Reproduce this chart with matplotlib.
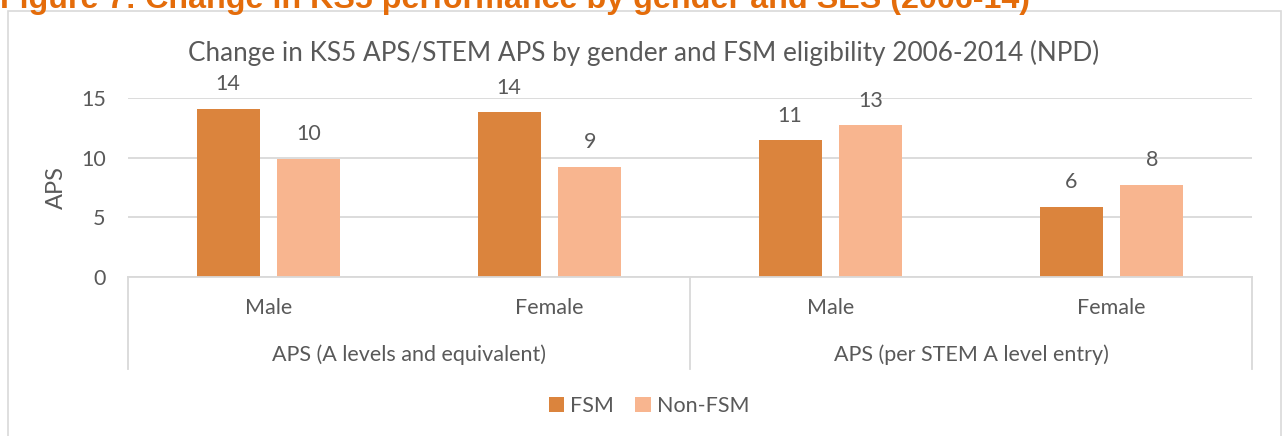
import matplotlib.pyplot as plt
import numpy as np
from matplotlib.patches import Rectangle
from matplotlib.lines import Line2D

# data
groups = ['APS (A levels and equivalent)', 'APS (per STEM A level entry)']
genders = ['Male', 'Female', 'Male', 'Female']
fsm = [14.1, 13.8, 11.45, 5.9]
non_fsm = [9.9, 9.2, 12.7, 7.75]
series_names = ['FSM', 'Non-FSM']

fsm_color = '#DB843D'
non_fsm_color = '#F8B58F'
grey_text = '#595959'
line_grey = '#D9D9D9'

plt.rcParams['font.family'] = ['Lato', 'DejaVu Sans']
fs = 15.5

W, H = 1285, 436
fig = plt.figure(figsize=(W / 100, H / 100), dpi=100)

# pixel helpers (top-left origin)
def fx(px):
    return px / W

def fy(py):
    return 1 - py / H

# outer chart border
fig.patches.append(Rectangle((fx(8), fy(445)), fx(1281) - fx(8), fy(11) - fy(445),
                             transform=fig.transFigure, fill=False,
                             edgecolor=line_grey, linewidth=1.2))

# header caption (cut off at the top like in the source)
fig.text(fx(0), fy(8), 'Figure 7: Change in KS5 performance by gender and SES (2006-14)',
         color='#E46C0A', fontsize=23.2, fontweight='bold',
         family=['Liberation Sans', 'DejaVu Sans'], ha='left', va='baseline')

left, right, y0, y15 = 128, 1252, 277, 98
ax = fig.add_axes([fx(left), fy(y0), fx(right) - fx(left), fy(y15) - fy(y0)])

x = np.arange(len(genders))
w = 0.224
off = 0.144
b1 = ax.bar(x - off, fsm, w, color=fsm_color, label=series_names[0], zorder=3)
b2 = ax.bar(x + off, non_fsm, w, color=non_fsm_color, label=series_names[1], zorder=3)

for bars, vals in [(b1, fsm), (b2, non_fsm)]:
    for rect, v in zip(bars, vals):
        ax.annotate(f'{v:.0f}', (rect.get_x() + rect.get_width() / 2, v),
                    xytext=(0, 13.5), textcoords='offset points',
                    ha='center', va='baseline', fontsize=fs, color=grey_text,
                    annotation_clip=False)

ax.set_xlim(-0.5, 3.5)
ax.set_ylim(0, 15)
ax.set_yticks([0, 5, 10, 15])
ax.tick_params(axis='y', length=0, pad=16, labelsize=fs, labelcolor=grey_text)
ax.set_xticks([])
for s in ax.spines.values():
    s.set_visible(False)
ax.grid(axis='y', color=line_grey, linewidth=1.3, zorder=0)
ax.set_ylabel('APS', fontsize=17, color=grey_text, labelpad=10)

# two-level category axis
tr = ax.get_xaxis_transform()
axh = y0 - y15
def ay(py):
    return (y0 - py) / axh

ax.add_line(Line2D([-0.5, 3.5], [0, 0], transform=tr, color=line_grey,
                   linewidth=1.3, clip_on=False, zorder=4))
for xv in [-0.5, 1.5, 3.5]:
    ax.add_line(Line2D([xv, xv], [0, ay(369)], transform=tr, color=line_grey,
                       linewidth=1.3, clip_on=False))
for i, g in enumerate(genders):
    ax.text(i, ay(308), g, transform=tr, ha='center', va='center',
            fontsize=fs, color=grey_text)
for j, g in enumerate(groups):
    ax.text(2 * j + 0.5, ay(355), g, transform=tr, ha='center', va='center',
            fontsize=fs, color=grey_text)

fig.text(fx(644), fy(53), 'Change in KS5 APS/STEM APS by gender and FSM eligibility 2006-2014 (NPD)',
         ha='center', va='center', fontsize=18.8, color=grey_text)

fig.legend(handles=[b1, b2], labels=series_names, loc='center',
           bbox_to_anchor=(fx(649), fy(406)), ncol=2, frameon=False,
           fontsize=fs, labelcolor=grey_text, handlelength=0.7,
           handleheight=0.7, handletextpad=0.3, columnspacing=1.0)

fig.savefig('out.png', dpi=100)
